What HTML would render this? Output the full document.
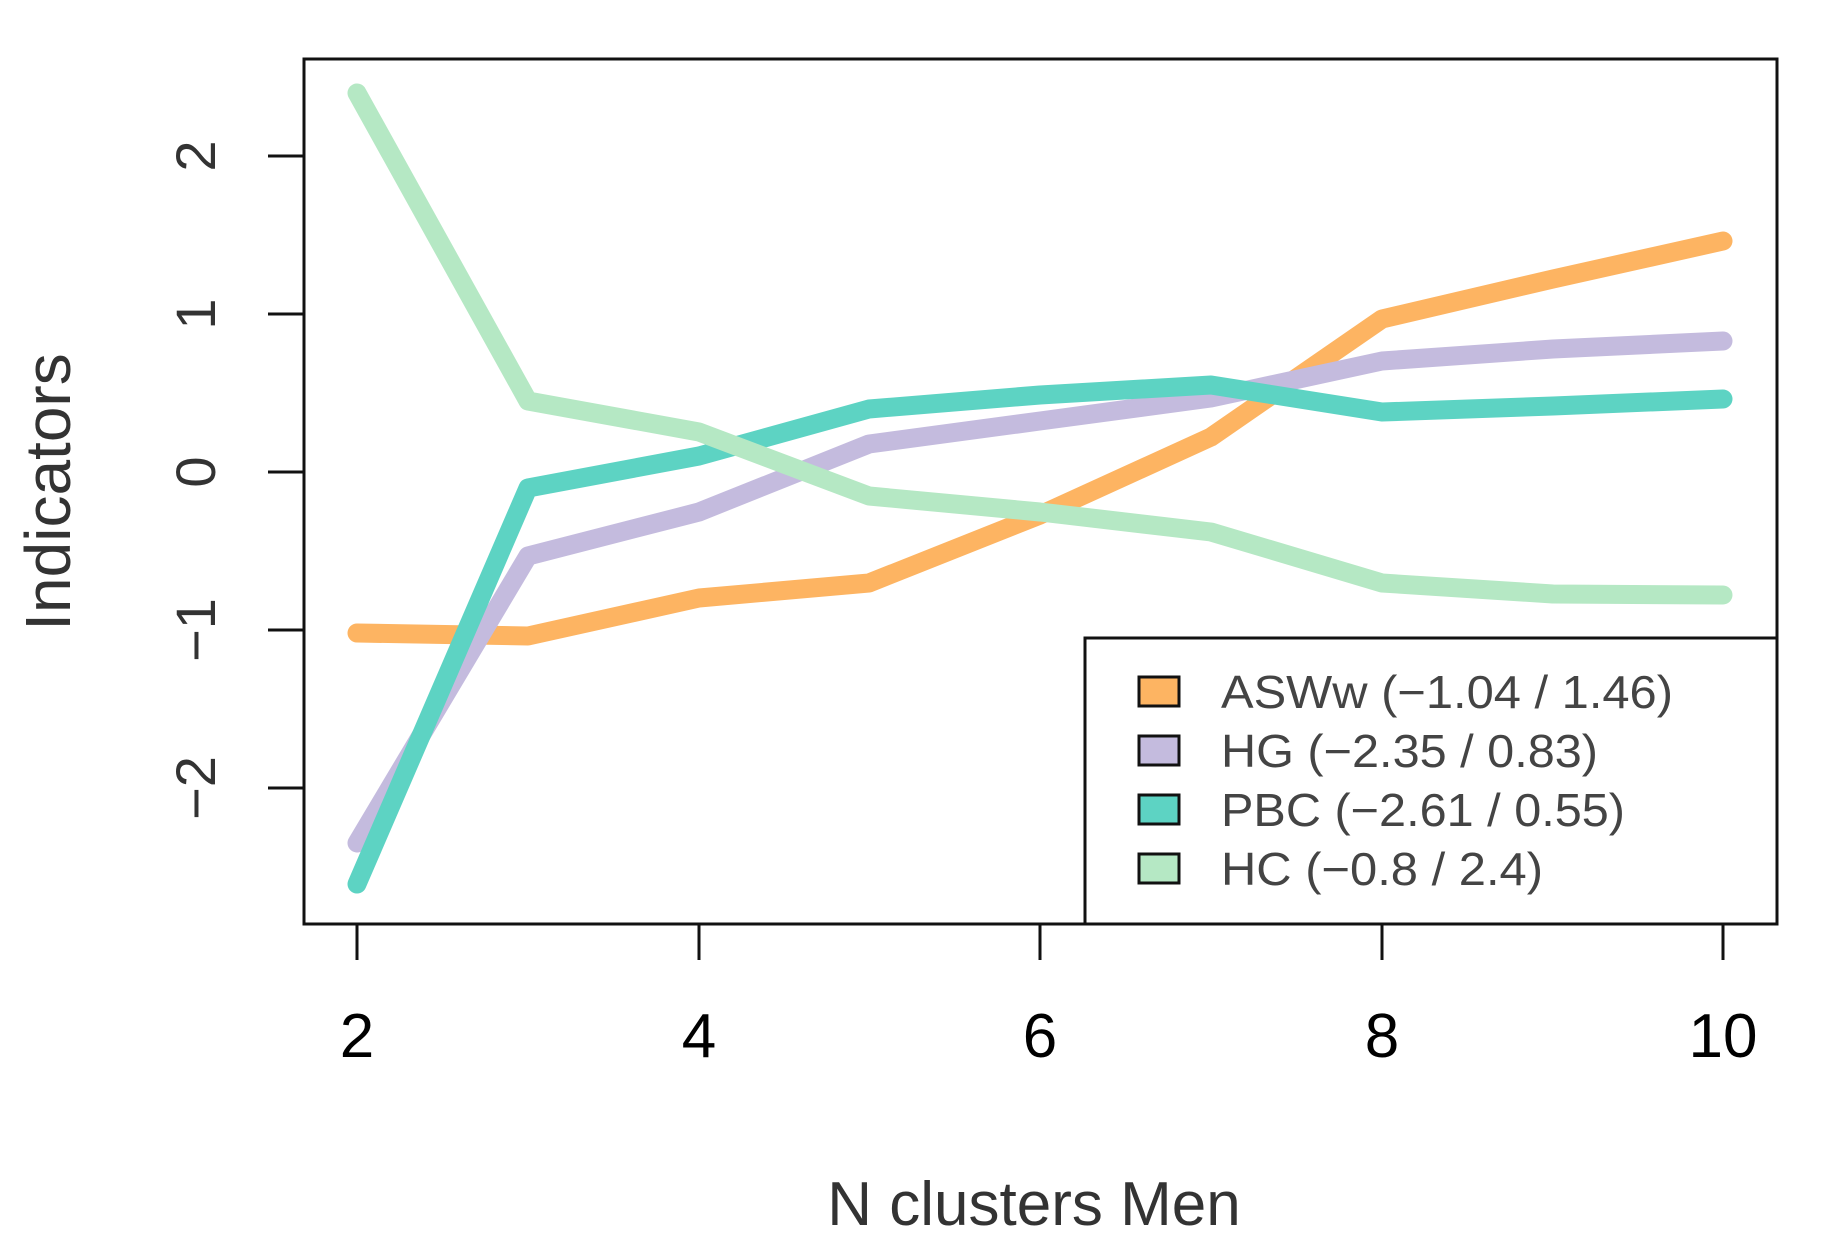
<!DOCTYPE html>
<html><head><meta charset="utf-8"><style>html,body{margin:0;padding:0;background:#fff}svg{display:block}</style></head>
<body>
<svg width="1823" height="1259" viewBox="0 0 1823 1259" xmlns="http://www.w3.org/2000/svg" font-family="Liberation Sans, Arial, sans-serif">
<rect width="1823" height="1259" fill="#fff"/>
<g fill="none" stroke-width="19" stroke-linecap="round" stroke-linejoin="round">
<polyline stroke="#fdb462" points="357,633 528,636 699,598 869,583 1040,515 1211,437 1382,319 1553,279 1723,241"/>
<polyline stroke="#c4bbde" points="357,843 528,556 699,512 869,444 1040,421 1211,398 1382,361 1553,349 1723,341"/>
<polyline stroke="#5dd3c3" points="357,884 528,488 699,456 869,409 1040,395 1211,385 1382,412 1553,406 1723,399"/>
<polyline stroke="#b5e8c4" points="357,93 528,401 699,432 869,496 1040,512 1211,532 1382,583 1553,594 1723,595"/>
</g>
<rect x="1085" y="638" width="692" height="286" fill="#fff" stroke="#111" stroke-width="3"/>
<rect x="304" y="59" width="1473" height="865" fill="none" stroke="#111" stroke-width="3"/>
<g stroke="#111" stroke-width="3">
<line x1="357" y1="924" x2="357" y2="960"/><line x1="699" y1="924" x2="699" y2="960"/>
<line x1="1040" y1="924" x2="1040" y2="960"/><line x1="1382" y1="924" x2="1382" y2="960"/>
<line x1="1723" y1="924" x2="1723" y2="960"/>
<line x1="268" y1="156" x2="304" y2="156"/><line x1="268" y1="314" x2="304" y2="314"/>
<line x1="268" y1="472" x2="304" y2="472"/><line x1="268" y1="630" x2="304" y2="630"/>
<line x1="268" y1="788" x2="304" y2="788"/>
</g>
<g font-size="62" fill="#000" text-anchor="middle">
<text x="357" y="1057">2</text><text x="699" y="1057">4</text><text x="1040" y="1057">6</text>
<text x="1382" y="1057">8</text><text x="1723" y="1057">10</text>
</g>
<g font-size="56" fill="#333" text-anchor="middle">
<text transform="translate(215,156) rotate(-90)">2</text>
<text transform="translate(215,314) rotate(-90)">1</text>
<text transform="translate(215,472) rotate(-90)">0</text>
<text transform="translate(215,630) rotate(-90)">−1</text>
<text transform="translate(215,788) rotate(-90)">−2</text>
</g>
<text transform="translate(70,492) rotate(-90)" font-size="64" fill="#333" text-anchor="middle">Indicators</text>
<text x="1034" y="1225" font-size="62" fill="#333" text-anchor="middle">N clusters Men</text>
<g stroke="#111" stroke-width="3">
<rect x="1139" y="677" width="40" height="29" fill="#fdb462"/>
<rect x="1139" y="736" width="40" height="29" fill="#c4bbde"/>
<rect x="1139" y="795" width="40" height="29" fill="#5dd3c3"/>
<rect x="1139" y="854" width="40" height="29" fill="#b5e8c4"/>
</g>
<g font-size="46" fill="#444">
<text x="1221" y="708" textLength="452" lengthAdjust="spacingAndGlyphs">ASWw (−1.04 / 1.46)</text>
<text x="1221" y="767" textLength="377" lengthAdjust="spacingAndGlyphs">HG (−2.35 / 0.83)</text>
<text x="1221" y="826" textLength="404" lengthAdjust="spacingAndGlyphs">PBC (−2.61 / 0.55)</text>
<text x="1221" y="885" textLength="322" lengthAdjust="spacingAndGlyphs">HC (−0.8 / 2.4)</text>
</g>
</svg>
</body></html>
